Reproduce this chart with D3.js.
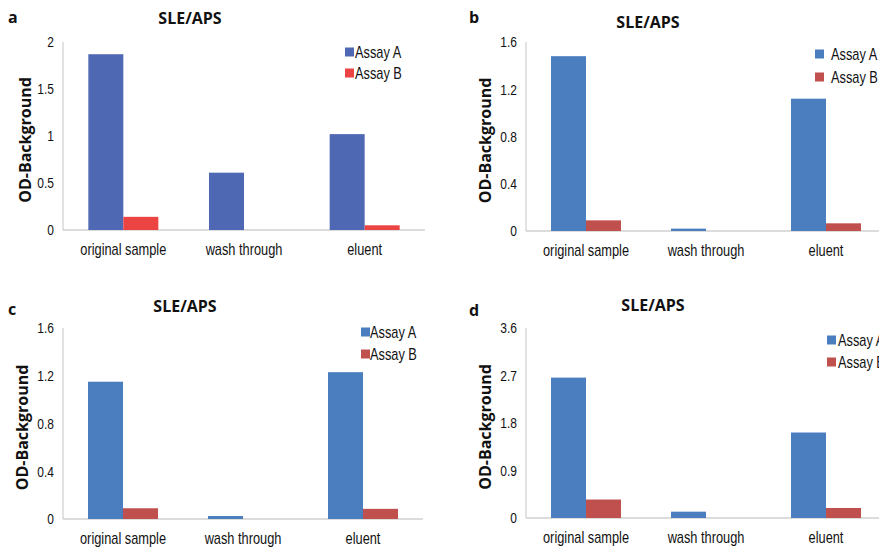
<!DOCTYPE html>
<html>
<head>
<meta charset="utf-8">
<script src="https://cdn.jsdelivr.net/npm/d3@7"></script>
<style>
  body { margin: 0; background: #fff; }
  .tick-label, .cat-label, .legend-text { font-family: "Liberation Sans", Arial, sans-serif; fill: #111; }
  .title, .ylab, .letter { font-family: "Open Sans", "Liberation Sans", sans-serif; font-weight: 700; fill: #111; }
</style>
</head>
<body>
<div id="chart"></div>
<script>
// Data
var categories = ["original sample", "wash through", "eluent"];
var seriesNames = ["Assay A", "Assay B"];

var panelA_assayA = [1.87, 0.61, 1.02];
var panelA_assayB = [0.14, 0, 0.05];
var panelB_assayA = [1.48, 0.02, 1.12];
var panelB_assayB = [0.09, 0, 0.065];
var panelC_assayA = [1.15, 0.025, 1.23];
var panelC_assayB = [0.09, 0, 0.085];
var panelD_assayA = [2.66, 0.12, 1.62];
var panelD_assayB = [0.35, 0, 0.19];

var ticksA = [0, 0.5, 1, 1.5, 2];
var ticks16 = [0, 0.4, 0.8, 1.2, 1.6];
var ticksD = [0, 0.9, 1.8, 2.7, 3.6];

var svgWidth = 879, svgHeight = 551;
var squeeze = 0.8; // narrow font look

var svg = d3.select("#chart")
  .append("svg")
  .attr("width", svgWidth)
  .attr("height", svgHeight);

var fmt1 = d => d === 0 ? "0" : d3.format(".1f")(d);

// panel layouts
var panels = [
  { letter: "a", a: panelA_assayA, b: panelA_assayB, ticks: ticksA, fmt: d => d,
    x0: 63, top: 42, bottom: 230, width: 362, colors: ["#4f68b4", "#ec4343"],
    letterPos: [8, 23], titleX: 190, titleY: 24, ylabX: 31,
    legX: 345, legY: 52, legGap: 21, legText: 10 },
  { letter: "b", a: panelB_assayA, b: panelB_assayB, ticks: ticks16, fmt: fmt1,
    x0: 526, top: 42, bottom: 231, width: 360, colors: ["#4a7ebf", "#c0504d"],
    letterPos: [469, 23], titleX: 648, titleY: 28, ylabX: 491,
    legX: 815, legY: 54, legGap: 23, legText: 16 },
  { letter: "c", a: panelC_assayA, b: panelC_assayB, ticks: ticks16, fmt: fmt1,
    x0: 63, top: 328, bottom: 519, width: 360, colors: ["#4a7ebf", "#c0504d"],
    letterPos: [8, 315], titleX: 185, titleY: 312, ylabX: 28,
    legX: 361, legY: 332, legGap: 22, legText: 9 },
  { letter: "d", a: panelD_assayA, b: panelD_assayB, ticks: ticksD, fmt: fmt1,
    x0: 526, top: 328, bottom: 518, width: 360, colors: ["#4a7ebf", "#c0504d"],
    letterPos: [469, 316], titleX: 653, titleY: 311, ylabX: 491,
    legX: 827, legY: 340, legGap: 22, legText: 11 }
];

panels.forEach(function(p) {
  var g = svg.append("g");

  var x = d3.scaleBand()
    .domain(categories)
    .range([p.x0, p.x0 + p.width]);

  var xSub = d3.scaleBand()
    .domain(seriesNames)
    .range([x.bandwidth() / 2 - 35, x.bandwidth() / 2 + 35]);

  var y = d3.scaleLinear()
    .domain([0, p.ticks[p.ticks.length - 1]])
    .range([p.bottom, p.top]);

  // axis lines
  g.append("line")
    .attr("x1", p.x0).attr("x2", p.x0)
    .attr("y1", p.top).attr("y2", p.bottom)
    .attr("stroke", "#d9d9d9").attr("stroke-width", 1.5);
  g.append("line")
    .attr("x1", p.x0).attr("x2", p.x0 + p.width)
    .attr("y1", p.bottom).attr("y2", p.bottom)
    .attr("stroke", "#d0d0d0").attr("stroke-width", 1.5);

  // y tick labels
  g.selectAll(".tick-label")
    .data(p.ticks)
    .enter()
    .append("text")
    .attr("class", "tick-label")
    .attr("transform", d => `translate(${p.x0 - 9},${y(d)}) scale(${squeeze},1)`)
    .attr("dy", "0.35em")
    .attr("text-anchor", "end")
    .style("font-size", "15px")
    .text(d => p.fmt(d));

  // x category labels
  g.selectAll(".cat-label")
    .data(categories)
    .enter()
    .append("text")
    .attr("class", "cat-label")
    .attr("transform", d => `translate(${x(d) + x.bandwidth() / 2},${p.bottom + 25}) scale(${squeeze},1)`)
    .attr("text-anchor", "middle")
    .style("font-size", "16px")
    .text(d => d);

  // bars
  var rows = categories.map(function(c, i) {
    return { cat: c, vals: [p.a[i], p.b[i]] };
  });

  var groups = g.selectAll(".grp")
    .data(rows)
    .enter()
    .append("g")
    .attr("transform", d => `translate(${x(d.cat)},0)`);

  groups.selectAll("rect")
    .data(d => d.vals.map((v, j) => ({ s: seriesNames[j], v: v, j: j })))
    .enter()
    .append("rect")
    .attr("x", d => xSub(d.s))
    .attr("y", d => y(d.v))
    .attr("width", xSub.bandwidth())
    .attr("height", d => p.bottom - y(d.v))
    .attr("fill", d => p.colors[d.j]);

  // titles
  g.append("text")
    .attr("class", "letter")
    .attr("x", p.letterPos[0])
    .attr("y", p.letterPos[1])
    .style("font-size", "16px")
    .text(p.letter);

  g.append("text")
    .attr("class", "title")
    .attr("x", p.titleX)
    .attr("y", p.titleY)
    .attr("text-anchor", "middle")
    .style("font-size", "16px")
    .text("SLE/APS");

  g.append("text")
    .attr("class", "ylab")
    .attr("transform", `translate(${p.ylabX},${(p.top + p.bottom) / 2 + 4}) rotate(-90)`)
    .attr("text-anchor", "middle")
    .style("font-size", "16px")
    .text("OD-Background");

  // legend
  var leg = g.selectAll(".leg")
    .data(seriesNames)
    .enter()
    .append("g")
    .attr("transform", (d, i) => `translate(${p.legX},${p.legY + i * p.legGap})`);

  leg.append("rect")
    .attr("x", 0).attr("y", -4.5)
    .attr("width", 9).attr("height", 9)
    .attr("fill", (d, i) => p.colors[i]);

  leg.append("text")
    .attr("class", "legend-text")
    .attr("transform", `translate(${p.legText},0) scale(${squeeze},1)`)
    .attr("dy", "0.35em")
    .style("font-size", "16px")
    .text(d => d);
});
</script>
</body>
</html>
